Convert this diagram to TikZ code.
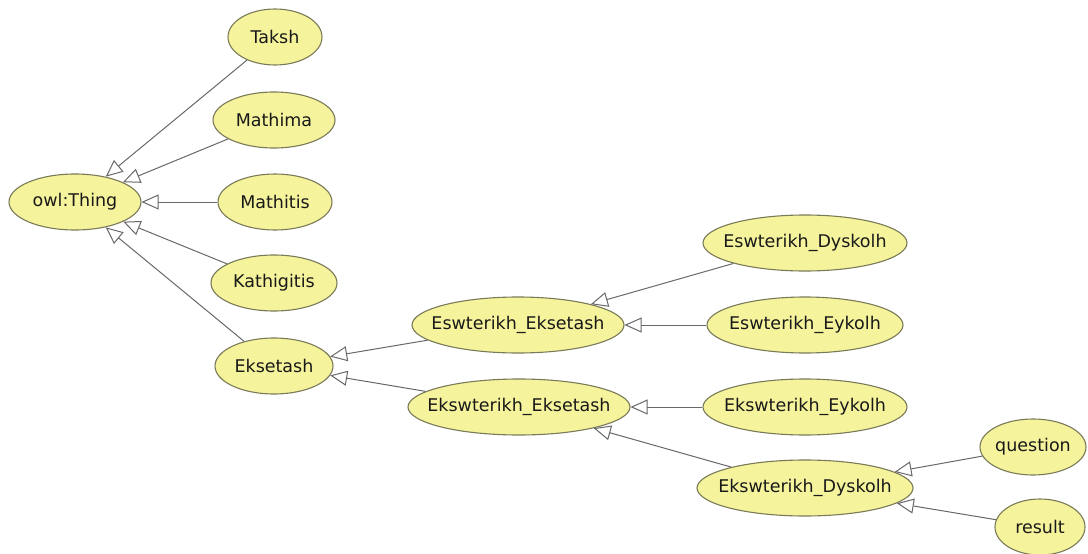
\documentclass[tikz,border=0pt]{standalone}
\usepackage{fontspec}
\setmainfont{DejaVu Sans}
\usetikzlibrary{shapes.geometric,arrows.meta}
\definecolor{cfill}{HTML}{F5F39C}
\definecolor{cborder}{HTML}{7A7A58}
\definecolor{cedge}{HTML}{686868}
\tikzset{
  cls/.style={ellipse, draw=cborder, fill=cfill, line width=1.1pt,
    inner xsep=-40pt, inner ysep=0pt, minimum height=56pt,
    font=\fontsize{17.5}{20}\selectfont, text=black!90},
  isa/.style={draw=cedge, line width=1pt,
    -{Triangle[open, length=17pt, width=15pt, line width=1pt]}}
}
\begin{document}
\begin{tikzpicture}[x=1pt,y=-1pt]
\useasboundingbox[fill=white] (0,0) rectangle (1088,554);
\node[cls, minimum width=132pt] (thing) at (75,202) {owl:Thing};
\node[cls, minimum width=94pt] (taksh) at (275,37) {Taksh};
\node[cls, minimum width=122pt] (mathima) at (274,120) {Mathima};
\node[cls, minimum width=114pt] (mathitis) at (275,202) {Mathitis};
\node[cls, minimum width=126pt] (kath) at (274,283) {Kathigitis};
\node[cls, minimum width=118pt] (eks) at (274,366) {Eksetash};
\node[cls, minimum width=212pt] (eswE) at (518,325) {Eswterikh\_Eksetash};
\node[cls, minimum width=222pt] (ekswE) at (519,407) {Ekswterikh\_Eksetash};
\node[cls, minimum width=204pt] (eswD) at (805,243) {Eswterikh\_Dyskolh};
\node[cls, minimum width=196pt] (eswY) at (805,325) {Eswterikh\_Eykolh};
\node[cls, minimum width=204pt] (ekswY) at (805,407) {Ekswterikh\_Eykolh};
\node[cls, minimum width=216pt] (ekswD) at (805,488) {Ekswterikh\_Dyskolh};
\node[cls, minimum width=106pt] (question) at (1033,447) {question};
\node[cls, minimum width=90pt] (result) at (1040,527) {result};

\draw[isa] (taksh) -- (thing);
\draw[isa] (mathima) -- (thing);
\draw[isa] (mathitis) -- (thing);
\draw[isa] (kath) -- (thing);
\draw[isa] (eks) -- (thing);
\draw[isa] (eswE) -- (eks);
\draw[isa] (ekswE) -- (eks);
\draw[isa] (eswD) -- (eswE);
\draw[isa] (eswY) -- (eswE);
\draw[isa] (ekswY) -- (ekswE);
\draw[isa] (ekswD) -- (ekswE);
\draw[isa] (question) -- (ekswD);
\draw[isa] (result) -- (ekswD);
\end{tikzpicture}
\end{document}
